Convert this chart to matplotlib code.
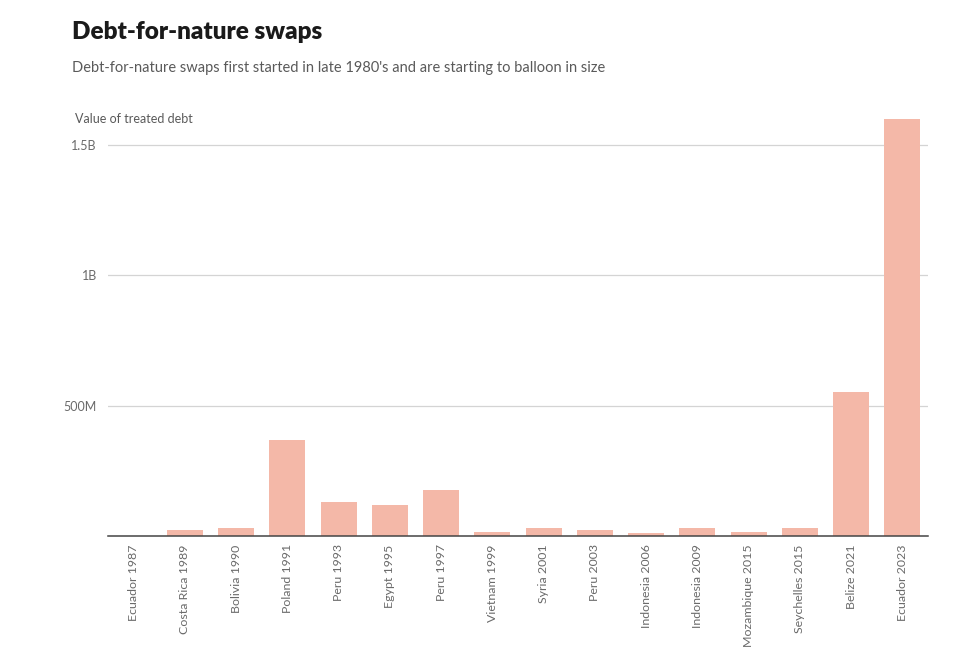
import numpy as np
import matplotlib.pyplot as plt

swaps = ["Ecuador 1987", "Costa Rica 1989", "Bolivia 1990", "Poland 1991",
         "Peru 1993", "Egypt 1995", "Peru 1997", "Vietnam 1999", "Syria 2001",
         "Peru 2003", "Indonesia 2006", "Indonesia 2009", "Mozambique 2015",
         "Seychelles 2015", "Belize 2021", "Ecuador 2023"]
# value of treated debt, millions USD
debt_m = [1, 23, 30, 370, 129, 120, 175, 15, 32, 23, 10, 30, 14, 30, 551, 1600]

yticks = [500, 1000, 1500]
ytick_labels = ["500M", "1B", "1.5B"]

plt.rcParams['font.family'] = ['Lato', 'DejaVu Sans']

W, H = 976, 661
fig = plt.figure(figsize=(W / 100, H / 100), dpi=100)
ax = fig.add_axes([108 / W, (H - 536) / H, (928 - 108) / W, (536 - 119) / H])

x = np.arange(len(swaps))
ax.bar(x, debt_m, width=0.7, color='#f4b8a8', zorder=2)

ax.set_xlim(-0.5, len(swaps) - 0.5)
ax.set_ylim(0, 1600)
ax.set_yticks(yticks)
ax.set_yticklabels(ytick_labels)
ax.set_xticks(x)
ax.set_xticklabels(swaps, rotation=90, va='top', ha='center')

ax.grid(axis='y', color='#d4d4d4', linewidth=0.9, zorder=0)
for s in ['top', 'right', 'left']:
    ax.spines[s].set_visible(False)
ax.spines['bottom'].set_color('#444444')
ax.spines['bottom'].set_linewidth(1.1)
ax.spines['bottom'].set_zorder(3)
ax.tick_params(axis='y', length=0, pad=8, labelsize=9, labelcolor='#6a6a6a')
ax.tick_params(axis='x', length=0, pad=6, labelsize=8.9, labelcolor='#6a6a6a')

fig.text(72 / W, 1 - 32 / H, "Debt-for-nature swaps", fontsize=17.5,
         fontweight='heavy', color='#1a1a1a', va='center', ha='left')
fig.text(72 / W, 1 - 68 / H,
         "Debt-for-nature swaps first started in late 1980's and are starting to balloon in size",
         fontsize=10.5, color='#5a5a5a', va='center', ha='left')
fig.text(75 / W, 1 - 119 / H, "Value of treated debt", fontsize=9,
         color='#5a5a5a', va='center', ha='left')

fig.savefig("out.png", dpi=100)
plt.close(fig)
